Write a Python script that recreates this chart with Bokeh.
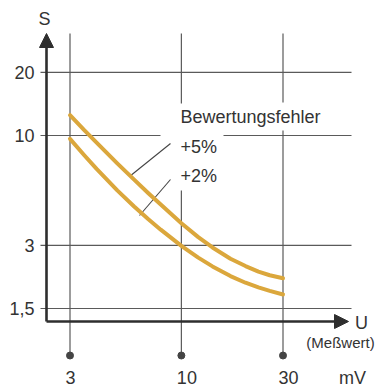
from bokeh.plotting import figure
from bokeh.models import Range1d, Arrow, NormalHead
from bokeh.core.properties import value
from bokeh.embed import file_html
from bokeh.resources import INLINE

# ---- data -------------------------------------------------------------
# measured voltage U (mV) and time S for the two evaluation-error curves
u_vals = [3, 3.5, 4, 5, 6, 7, 8, 10, 12, 14, 17, 20, 23, 26, 30]
s_5pct = [12.5, 10.6, 9.25, 7.37, 6.16, 5.31, 4.69, 3.82, 3.28, 2.93, 2.59, 2.39, 2.25, 2.16, 2.09]
s_2pct = [9.64, 8.05, 6.93, 5.48, 4.59, 3.99, 3.56, 2.98, 2.62, 2.38, 2.14, 1.99, 1.89, 1.82, 1.75]

x_ticks = [3, 10, 30]
x_tick_labels = ["3", "10", "30"]
y_ticks = [20, 10, 3, 1.5]
y_tick_labels = ["20", "10", "3", "1,5"]

# ---- layout -----------------------------------------------------------
W, H = 377, 387
DEC_X, X3_PX = 213.0, 69.5      # px per decade on U, pixel column of U=3
DEC_Y, Y10_PX = 210.0, 135.0    # px per decade on S, pixel row of S=10

x_lo = 3 * 10 ** (-X3_PX / DEC_X)
x_hi = 3 * 10 ** ((W - X3_PX) / DEC_X)
y_hi = 10 * 10 ** (Y10_PX / DEC_Y)
y_lo = 10 * 10 ** (-(H - Y10_PX) / DEC_Y)


def ux(px):
    return 3 * 10 ** ((px - X3_PX) / DEC_X)


def sy(py):
    return 10 * 10 ** ((Y10_PX - py) / DEC_Y)


GOLD = "#DBA73C"
GRID = "#5a5a5a"
INK = "#333333"
FONT = value("Liberation Sans")

p = figure(width=W, height=H, x_axis_type="log", y_axis_type="log",
           x_range=Range1d(x_lo, x_hi), y_range=Range1d(y_lo, y_hi),
           x_axis_location=None, y_axis_location=None,
           toolbar_location=None, output_backend="svg", min_border=0,
           outline_line_color=None, background_fill_color="white",
           border_fill_color="white")
p.xgrid.visible = False
p.ygrid.visible = False

# horizontal grid lines (the one at 10 leaves room for the legend text)
h_gaps = {10: (160, 223)}
hx0, hx1, hy0, hy1 = [], [], [], []
for s in y_ticks:
    pieces = [(40, h_gaps[s][0]), (h_gaps[s][1], 351)] if s in h_gaps else [(40, 351)]
    for a, b in pieces:
        hx0.append(ux(a)); hx1.append(ux(b)); hy0.append(s); hy1.append(s)
p.segment(x0=hx0, y0=hy0, x1=hx1, y1=hy1, line_color=GRID, line_width=1.2)

# vertical grid lines, running down past the U axis to a dot
v_gaps = {10: (103, 190), 30: (102, 130)}
vx0, vx1, vy0, vy1 = [], [], [], []
for u in x_ticks:
    pieces = [(33, v_gaps[u][0]), (v_gaps[u][1], 355)] if u in v_gaps else [(33, 355)]
    for a, b in pieces:
        vx0.append(u); vx1.append(u); vy0.append(sy(a)); vy1.append(sy(b))
p.segment(x0=vx0, y0=vy0, x1=vx1, y1=vy1, line_color=GRID, line_width=1.2)
p.scatter(x=x_ticks, y=[sy(355)] * len(x_ticks), size=7, color="#444444")

# leader lines from the labels to the curves
p.segment(x0=[ux(129), ux(139)], y0=[sy(176), sy(215)],
          x1=[ux(170), ux(170)], y1=[sy(143), sy(179)],
          line_color="#444444", line_width=1.1)

# curves
p.line(u_vals, s_5pct, line_color=GOLD, line_width=4, line_join="round", line_cap="round")
p.line(u_vals, s_2pct, line_color=GOLD, line_width=4, line_join="round", line_cap="round")

# axes with arrow heads
ax_u, ax_s = ux(46), sy(321)
p.add_layout(Arrow(x_start=ax_u, y_start=ax_s, x_end=ax_u, y_end=sy(33),
                   line_color="#2e2e2e", line_width=2.6,
                   end=NormalHead(size=14, fill_color="#2e2e2e", line_color="#2e2e2e")))
p.add_layout(Arrow(x_start=ax_u, y_start=ax_s, x_end=ux(348), y_end=ax_s,
                   line_color="#2e2e2e", line_width=2.6,
                   end=NormalHead(size=14, fill_color="#2e2e2e", line_color="#2e2e2e")))

# tick labels
p.text(x=[ax_u] * len(y_ticks), y=y_ticks, text=y_tick_labels, x_offset=-12,
       text_align="right", text_baseline="middle", text_font=FONT,
       text_font_size="18px", text_color=INK)
p.text(x=x_ticks, y=[sy(377)] * len(x_ticks), text=x_tick_labels, x_offset=-4.5,
       text_align="left", text_baseline="middle", text_font=FONT,
       text_font_size="18px", text_color=INK)

# axis titles and units
p.text(x=[ux(44), ux(361), ux(340), ux(352)],
       y=[sy(18.5), sy(322), sy(342), sy(377)],
       text=["S", "U", "(Meßwert)", "mV"],
       text_align="center", text_baseline="middle", text_font=FONT,
       text_font_size=["18px", "18px", "15px", "18px"], text_color=INK)

# curve labels
p.text(x=[ux(180), ux(180), ux(180)], y=[sy(116), sy(146), sy(175)],
       text=["Bewertungsfehler", "+5%", "+2%"],
       text_align="left", text_baseline="middle", text_font=FONT,
       text_font_size="18px", text_color=INK)

open("out.html", "w").write(file_html(p, INLINE))
